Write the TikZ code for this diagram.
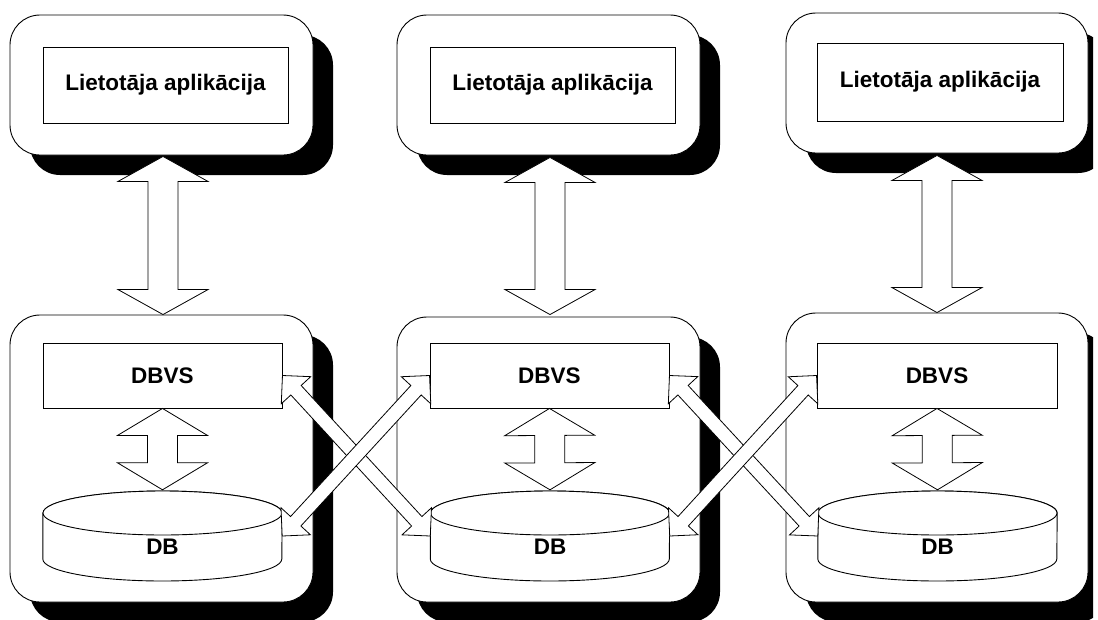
\documentclass[tikz,border=0pt]{standalone}
\usepackage{fontspec}
\setmainfont{Liberation Sans}
\usetikzlibrary{calc,shadows}
\tikzset{
  outerbox/.style={draw=black, line width=0.9pt, fill=white, rounded corners=30pt,
    inner sep=0pt,
    drop shadow={shadow xshift=20pt, shadow yshift=-20pt, fill=black, opacity=1}},
  innerbox/.style={draw=black, line width=0.9pt, fill=white, inner sep=0pt,
    font=\bfseries\fontsize{22.5pt}{27pt}\selectfont},
  dbbox/.style={inner sep=0pt, minimum width=239pt, minimum height=90pt},
  lbl/.style={font=\bfseries\fontsize{22.5pt}{27pt}\selectfont, inner sep=0pt},
  arrowshape/.style={draw=black, line width=0.8pt, fill=white, line join=miter},
  cylline/.style={draw=black, line width=0.9pt, fill=white}
}
\newcommand{\dblarrow}[5]{%
  \draw[arrowshape] (#1)
    -- ($(#1)!#3!(#2)!#4!90:(#2)$)
    -- ($(#1)!#3!(#2)!#5!90:(#2)$)
    -- ($(#2)!#3!(#1)!#5!-90:(#1)$)
    -- ($(#2)!#3!(#1)!#4!-90:(#1)$)
    -- (#2)
    -- ($(#2)!#3!(#1)!#4!90:(#1)$)
    -- ($(#2)!#3!(#1)!#5!90:(#1)$)
    -- ($(#1)!#3!(#2)!#5!-90:(#2)$)
    -- ($(#1)!#3!(#2)!#4!-90:(#2)$)
    -- cycle;}
\newcommand{\cylinderdraw}[1]{%
  \draw[cylline] ($(#1.west)+(0,-23)$) -- ($(#1.west)+(0,23)$)
    arc[start angle=180, end angle=360, x radius=119.5pt, y radius=22pt]
    -- ($(#1.east)+(0,-23)$)
    arc[start angle=0, end angle=180, x radius=119.5pt, y radius=22pt] -- cycle;
  \draw[cylline] ($(#1.center)+(0,-23)$) ellipse[x radius=119.5pt, y radius=22pt];}
\begin{document}
\begin{tikzpicture}[x=1pt, y=-1pt]
\useasboundingbox (0,0) rectangle (1098,619);
\clip (0,0) rectangle (1093,619);

% outer boxes
\node[outerbox, minimum width=303pt, minimum height=140pt] (u1) at (161.5,85) {};
\node[outerbox, minimum width=303pt, minimum height=140pt] (u2) at (548.5,85) {};
\node[outerbox, minimum width=302pt, minimum height=140pt] (u3) at (937,83) {};
\node[outerbox, minimum width=303pt, minimum height=287pt] (l1) at (161.5,458.5) {};
\node[outerbox, minimum width=303pt, minimum height=285pt] (l2) at (548.5,459.5) {};
\node[outerbox, minimum width=302pt, minimum height=289pt] (l3) at (937,457.5) {};

% application boxes
\node[innerbox, minimum width=245pt, minimum height=76pt] (app1) at (165.5,85) {Lietotāja aplikācija};
\node[innerbox, minimum width=245pt, minimum height=76pt] (app2) at (552.5,85) {Lietotāja aplikācija};
\node[innerbox, minimum width=246pt, minimum height=78pt] (app3) at (940,82) {Lietotāja aplikācija};

% DBVS boxes
\node[innerbox, minimum width=239pt, minimum height=65pt] (dbvs1) at (162.5,375.5) {DBVS};
\node[innerbox, minimum width=239pt, minimum height=65pt] (dbvs2) at (549.5,375.5) {DBVS};
\node[innerbox, minimum width=240pt, minimum height=65pt] (dbvs3) at (937,375.5) {DBVS};

% databases
\node[dbbox] (db1) at (162.5,536) {};
\node[dbbox] (db2) at (550,536) {};
\node[dbbox] (db3) at (937.5,536) {};
\cylinderdraw{db1}
\cylinderdraw{db2}
\cylinderdraw{db3}
\node[lbl] (db1t) at ($(db1.center)+(0,11)$) {DB};
\node[lbl] (db2t) at ($(db2.center)+(0,11)$) {DB};
\node[lbl] (db3t) at ($(db3.center)+(0,11)$) {DB};

% vertical arrows between application and DBVS
\coordinate (a1t) at ($(u1.south)+(1.5,1)$);
\coordinate (a1b) at ($(l1.north)+(1.5,0)$);
\coordinate (a2t) at ($(u2.south)+(1.5,2)$);
\coordinate (a2b) at ($(l2.north)+(1.5,-2)$);
\coordinate (a3t) at ($(u3.south)+(0,2)$);
\coordinate (a3b) at (l3.north);
\dblarrow{a1t}{a1b}{25pt}{45pt}{15pt}
\dblarrow{a2t}{a2b}{25pt}{45pt}{15pt}
\dblarrow{a3t}{a3b}{25pt}{45pt}{15pt}

% DBVS <-> DB inside each box
\coordinate (i1t) at (dbvs1.south);
\coordinate (i1b) at ($(db1.north)+(0,-1)$);
\coordinate (i2t) at (dbvs2.south);
\coordinate (i2b) at ($(db2.north)+(0,-1)$);
\coordinate (i3t) at (dbvs3.south);
\coordinate (i3b) at ($(db3.north)+(0,-1)$);
\dblarrow{i1t}{i1b}{27pt}{45pt}{15pt}
\dblarrow{i2t}{i2b}{27pt}{45pt}{15pt}
\dblarrow{i3t}{i3b}{27pt}{45pt}{15pt}

% crossing arrows
\dblarrow{dbvs1.east}{db2.west}{20pt}{20pt}{7pt}
\dblarrow{db1.east}{dbvs2.west}{20pt}{20pt}{7pt}
\dblarrow{dbvs2.east}{db3.west}{20pt}{20pt}{7pt}
\dblarrow{db2.east}{dbvs3.west}{20pt}{20pt}{7pt}
\end{tikzpicture}
\end{document}
